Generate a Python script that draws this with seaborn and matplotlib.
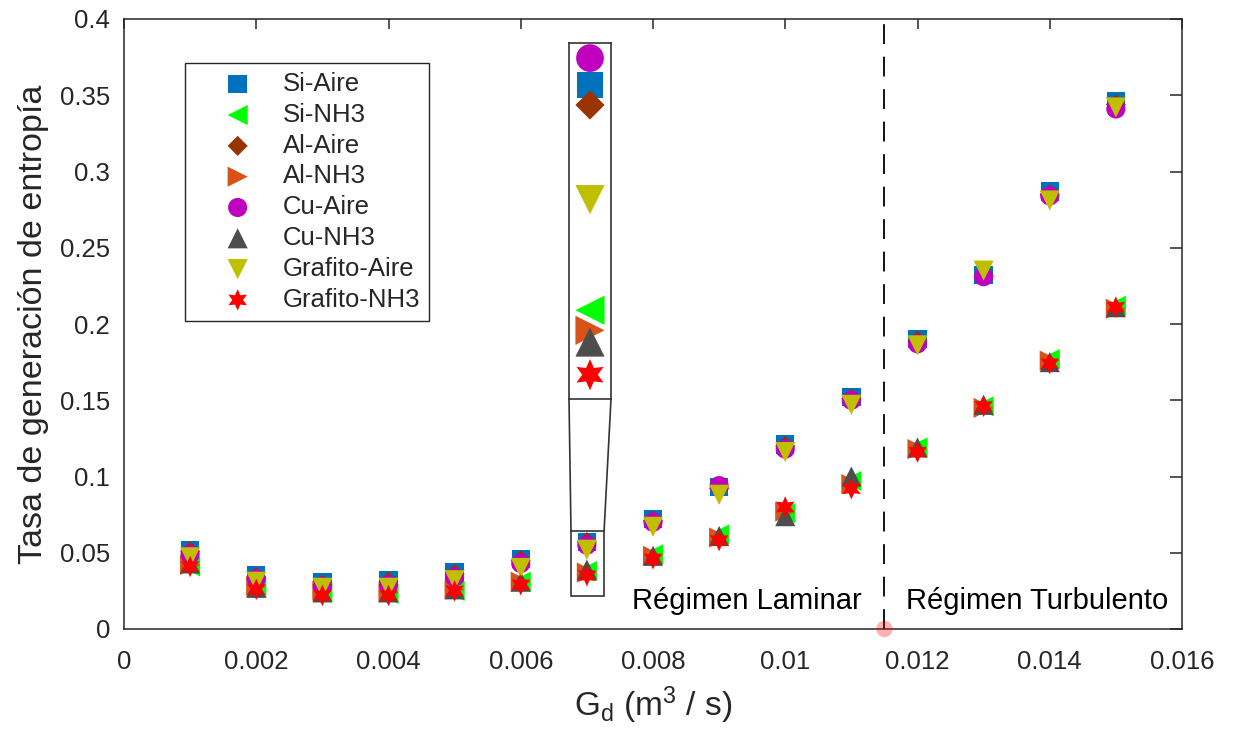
import numpy as np
import pandas as pd
import matplotlib
matplotlib.use("Agg")
import matplotlib.pyplot as plt
import seaborn as sns
from matplotlib.patches import Rectangle, ConnectionPatch
from matplotlib.ticker import FixedLocator, FixedFormatter

# ---------------- data ----------------
caudal = [0.001, 0.002, 0.003, 0.004, 0.005, 0.006, 0.007, 0.008,
          0.009, 0.010, 0.011, 0.012, 0.013, 0.014, 0.015]

si_aire = [0.052, 0.035, 0.031, 0.032, 0.037, 0.046, 0.057, 0.072,
           0.093, 0.121, 0.152, 0.190, 0.232, 0.287, 0.346]
si_nh3 = [0.041, 0.027, 0.024, 0.023, 0.025, 0.031, 0.038, 0.049,
          0.062, 0.076, 0.097, 0.119, 0.146, 0.177, 0.212]
al_aire = [0.051, 0.034, 0.029, 0.031, 0.036, 0.045, 0.057, 0.071,
           0.092, 0.120, 0.151, 0.189, 0.232, 0.285, 0.344]
al_nh3 = [0.042, 0.028, 0.025, 0.024, 0.026, 0.031, 0.037, 0.048,
          0.060, 0.077, 0.095, 0.118, 0.145, 0.176, 0.210]
cu_aire = [0.049, 0.033, 0.028, 0.029, 0.034, 0.043, 0.055, 0.070,
           0.094, 0.118, 0.150, 0.187, 0.231, 0.284, 0.341]
cu_nh3 = [0.043, 0.027, 0.024, 0.024, 0.026, 0.031, 0.039, 0.048,
          0.061, 0.074, 0.100, 0.119, 0.147, 0.175, 0.211]
grafito_aire = [0.047, 0.031, 0.027, 0.027, 0.032, 0.040, 0.052, 0.067,
                0.088, 0.116, 0.147, 0.186, 0.235, 0.281, 0.342]
grafito_nh3 = [0.041, 0.026, 0.022, 0.022, 0.025, 0.029, 0.035, 0.046,
               0.058, 0.080, 0.092, 0.116, 0.146, 0.174, 0.211]

series_names = ["Si-Aire", "Si-NH3", "Al-Aire", "Al-NH3",
                "Cu-Aire", "Cu-NH3", "Grafito-Aire", "Grafito-NH3"]
series_values = [si_aire, si_nh3, al_aire, al_nh3,
                 cu_aire, cu_nh3, grafito_aire, grafito_nh3]

# values shown in the magnified view of the x = 0.007 group
inset_x = 0.007
inset_vals = [0.0591, 0.0322, 0.0567, 0.0298, 0.0623, 0.0284, 0.0454, 0.0245]
zoom_xlim = (0.00676, 0.00726)
zoom_ylim = (0.0216, 0.0641)

x_ticks = [0, 0.002, 0.004, 0.006, 0.008, 0.010, 0.012, 0.014, 0.016]
x_tick_labels = ["0", "0.002", "0.004", "0.006", "0.008", "0.01",
                 "0.012", "0.014", "0.016"]
y_ticks = [0, 0.05, 0.10, 0.15, 0.20, 0.25, 0.30, 0.35, 0.40]
y_tick_labels = ["0", "0.05", "0.1", "0.15", "0.2", "0.25", "0.3",
                 "0.35", "0.4"]
regime_limit = 0.0115

# ---------------- style ----------------
hexagram = (6, 1, 0)
styles = {
    "Si-Aire":      dict(marker="s", color="#0072BD", s=175),
    "Si-NH3":       dict(marker="<", color="#00FF00", s=210),
    "Al-Aire":      dict(marker="D", color="#993300", s=105),
    "Al-NH3":       dict(marker=">", color="#D95319", s=210),
    "Cu-Aire":      dict(marker="o", color="#BF00BF", s=190),
    "Cu-NH3":       dict(marker="^", color="#4D4D4D", s=210),
    "Grafito-Aire": dict(marker="v", color="#BFBF00", s=210),
    "Grafito-NH3":  dict(marker=hexagram, color="#FF0000", s=240),
}

sns.set_style("white")
plt.rcParams["font.family"] = ["Liberation Sans", "DejaVu Sans"]
plt.rcParams["mathtext.default"] = "regular"
axcol = "#262626"

fig = plt.figure(figsize=(12.37, 7.30), dpi=100)
W, H = 1237, 730
ax = fig.add_axes([124 / W, 1 - 629 / H, 1058 / W, 610 / H])

rows = []
for name, vals in zip(series_names, series_values):
    for xv, yv in zip(caudal, vals):
        rows.append((name, xv, yv))
df = pd.DataFrame(rows, columns=["serie", "caudal", "tasa"])

for name in series_names:
    st = styles[name]
    sns.scatterplot(data=df[df["serie"] == name], x="caudal", y="tasa",
                    marker=st["marker"], color=st["color"], s=st["s"],
                    edgecolor="none", linewidth=0, label=name, ax=ax,
                    zorder=3)

ax.set_xlim(0, 0.016)
ax.set_ylim(0, 0.4)
ax.xaxis.set_major_locator(FixedLocator(x_ticks))
ax.xaxis.set_major_formatter(FixedFormatter(x_tick_labels))
ax.yaxis.set_major_locator(FixedLocator(y_ticks))
ax.yaxis.set_major_formatter(FixedFormatter(y_tick_labels))
ax.tick_params(axis="both", direction="in", top=True, right=True,
               labelsize=18.5, colors=axcol, width=1.1)
ax.tick_params(axis="x", length=7.5, pad=15)
ax.tick_params(axis="y", length=9, pad=10)
for sp in ax.spines.values():
    sp.set_visible(True)
    sp.set_color(axcol)
    sp.set_linewidth(1.1)

ax.set_xlabel("G$_{d}$ (m$^{3}$ / s)", fontsize=24, color=axcol, labelpad=8)
ax.set_ylabel("Tasa de generación de entropía", fontsize=24.5, color=axcol,
              labelpad=8)

# regime separation
ax.axvline(regime_limit, color="black", linestyle=(0, (11, 7)),
           linewidth=1.3, zorder=2)
ax.scatter([regime_limit], [0], s=140, color="#FF0000", alpha=0.3,
           edgecolor="none", clip_on=False, zorder=5)
ax.text(0.00942, 0.0183, "Régimen Laminar", fontsize=21, ha="center",
        va="center", color="black")
ax.text(0.01381, 0.0183, "Régimen Turbulento", fontsize=21, ha="center",
        va="center", color="black")

# legend
leg = ax.legend(loc="upper left", bbox_to_anchor=(185 / W, 1 - 63 / H),
                bbox_transform=fig.transFigure, fontsize=18.5,
                frameon=True, fancybox=False, edgecolor=axcol,
                framealpha=1, borderpad=0.35, labelspacing=0.265,
                handlelength=3.4, handletextpad=0.05, scatterpoints=1,
                borderaxespad=0)
leg.get_frame().set_linewidth(1.0)

# zoom box on main axes
ax.add_patch(Rectangle((zoom_xlim[0], zoom_ylim[0]),
                       zoom_xlim[1] - zoom_xlim[0],
                       zoom_ylim[1] - zoom_ylim[0],
                       fill=False, edgecolor="#333333", linewidth=1.2,
                       zorder=4))

# magnified inset
iax = fig.add_axes([569 / W, 1 - 399 / H, 42 / W, 356 / H])
iax.set_facecolor("white")
for name, v in zip(series_names, inset_vals):
    st = styles[name]
    iax.scatter([inset_x], [v], marker=st["marker"], color=st["color"],
                s=st["s"] * 2.1, edgecolor="none", zorder=3)
iax.set_xlim(inset_x - 0.0003, inset_x + 0.0003)
iax.set_ylim(*zoom_ylim)
iax.set_xticks([])
iax.set_yticks([])
for sp in iax.spines.values():
    sp.set_visible(True)
    sp.set_color("#333333")
    sp.set_linewidth(1.2)

for xa, xb in [(0, zoom_xlim[0]), (1, zoom_xlim[1])]:
    con = ConnectionPatch(xyA=(xa, 0), coordsA=iax.transAxes,
                          xyB=(xb, zoom_ylim[1]), coordsB=ax.transData,
                          color="#333333", linewidth=1.2)
    fig.add_artist(con)

fig.savefig("out.png", dpi=100)
